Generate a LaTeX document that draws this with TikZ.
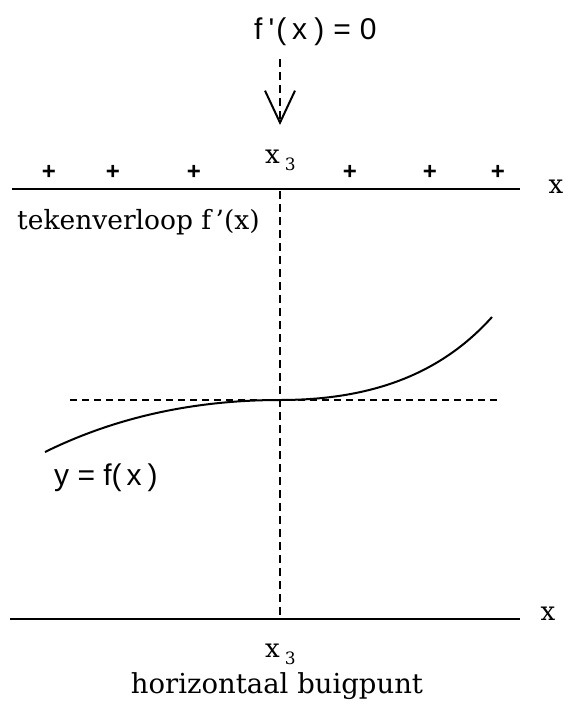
\documentclass[tikz,border=0pt]{standalone}
\usepackage{fontspec}
\setmainfont{DejaVu Serif}
\newfontfamily\sansf{Liberation Sans}
\usetikzlibrary{arrows.meta}
\newcommand{\xdrie}{{\fontsize{26}{26}\selectfont x}\hspace{5pt}\raisebox{-7pt}{\fontsize{17}{17}\selectfont 3}}
\begin{document}
\begin{tikzpicture}[x=1pt,y=-1pt,
  axis/.style={line width=2pt},
  guide/.style={line width=2pt, dash pattern=on 8pt off 5pt},
  hguide/.style={line width=1.6pt, dash pattern=on 7pt off 5pt},
  curve/.style={line width=2pt},
  serif/.style={inner sep=0pt},
  small/.style={font=\fontsize{26}{26}\selectfont, inner sep=0pt},
  sans/.style={font=\sansf\fontsize{30}{30}\selectfont, inner sep=0pt},
  sign/.style={font=\sansf\bfseries\fontsize{24}{24}\selectfont, inner sep=0pt}]
\useasboundingbox (0,0) rectangle (570,713);
% top label and arrow
\node[sans, anchor=base west] (fp) at (254,39) {f\hspace{6pt}'\hspace{2pt}(\hspace{6pt}x\hspace{7pt})\hspace{9pt}=\hspace{9pt}0};
\coordinate (tip) at (280,125);
\draw[guide, shorten <=14pt, -{Straight Barb[length=32pt,width=30pt,line width=2pt]}] (fp.south -| tip) -- (tip);
% sign row
\node[serif, anchor=base west] (x3t) at (265,163) {\xdrie};
\foreach \px [count=\i] in {49,113,194,350,430,498}
  \node[sign] (p\i) at (\px,172) {+};
% top axis
\coordinate (ta1) at (12,189);
\coordinate (ta2) at (520,189);
\draw[axis] (ta1) -- (ta2);
\node[small, anchor=base] (xt) at (556,193) {x};
\node[serif, font=\fontsize{26.5}{26.5}\selectfont, anchor=base west] (tek) at (17,229) {tekenverloop f\,'(x)};
% vertical guide
\coordinate (v1) at (280,191);
\coordinate (v2) at (280,618);
\draw[guide] (v1) -- (v2);
% horizontal tangent
\coordinate (h1) at (70,400);
\coordinate (h2) at (497,400);
\draw[hguide] (h1) -- (h2);
% curve
\coordinate (c0) at (45,452);
\coordinate (c1) at (280,400);
\coordinate (c2) at (492,317);
\draw[curve] (c0) .. controls (120,415) and (200,400) .. (c1)
             .. controls (370,400) and (440,375) .. (c2);
\node[sans, anchor=base west] (yf) at (54,485) {y = f(\hspace{5pt}x\hspace{6pt})};
% bottom axis
\coordinate (ba1) at (10,619);
\coordinate (ba2) at (520,619);
\draw[axis] (ba1) -- (ba2);
\node[small, anchor=base] (xb) at (548,620) {x};
\node[serif, anchor=base west] (x3b) at (265,657) {\xdrie};
\node[serif, font=\fontsize{27.5}{27.5}\selectfont, anchor=base] (hb) at (277,693) {horizontaal buigpunt};
\end{tikzpicture}
\end{document}
